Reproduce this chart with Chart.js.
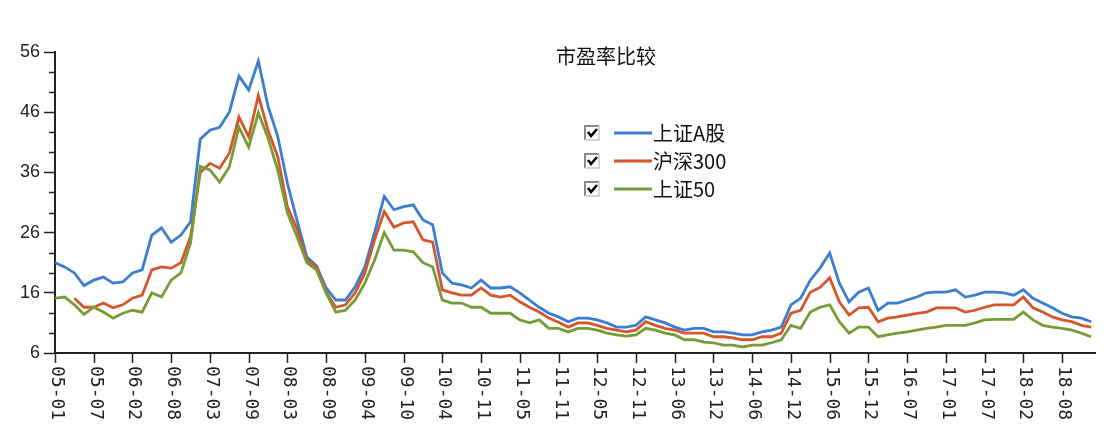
<!DOCTYPE html>
<html>
<head>
<meta charset="utf-8">
<script src="https://cdn.jsdelivr.net/npm/chart.js@4/dist/chart.umd.min.js"></script>
<style>
  html, body { margin: 0; padding: 0; background: #fff; }
  #wrap { width: 1107px; height: 427px; }
</style>
</head>
<body>
<div id="wrap"><canvas id="pe"></canvas></div>
<script>
const title = "市盈率比较";
const seriesNames = ["上证A股", "沪深300", "上证50"];
const seriesColors = ["#3a7dd2", "#d6552b", "#769c35"];

// x tick labels (yy-mm), one every 4 data points
const tickLabels = ["05-01", "05-07", "06-02", "06-08", "07-03", "07-09", "08-03", "08-09",
  "09-04", "09-10", "10-04", "10-11", "11-05", "11-11", "12-05", "12-11", "13-06", "13-12",
  "14-06", "14-12", "15-06", "15-12", "16-07", "17-01", "17-07", "18-02", "18-08"];
const pointsPerTick = 4;
const yTicks = [6, 16, 26, 36, 46, 56];

const shA = [21.0, 20.3, 19.3, 17.2, 18.1, 18.6, 17.6, 17.8, 19.3, 19.8,
  25.6, 26.8, 24.4, 25.6, 27.8, 41.5, 43.0, 43.5, 46.0, 52.0,
  49.7, 54.5, 47.0, 42.0, 34.2, 28.0, 22.0, 20.5, 16.8, 14.8,
  14.8, 17.0, 20.3, 26.0, 32.0, 29.8, 30.3, 30.6, 28.1, 27.3,
  19.3, 17.6, 17.3, 16.8, 18.1, 16.8, 16.8, 17.0, 16.0, 14.8,
  13.6, 12.6, 12.0, 11.2, 11.8, 11.8, 11.5, 11.0, 10.3, 10.3,
  10.6, 12.0, 11.5, 11.0, 10.3, 9.8, 10.1, 10.1, 9.5, 9.5,
  9.3, 9.0, 9.0, 9.5, 9.8, 10.3, 14.0, 15.1, 18.1, 20.1,
  22.6, 17.6, 14.5, 16.1, 16.8, 13.1, 14.3, 14.3, 14.8, 15.3,
  16.0, 16.1, 16.1, 16.5, 15.3, 15.6, 16.1, 16.1, 16.0, 15.6,
  16.5, 15.1, 14.3, 13.5, 12.6, 12.0, 11.8, 11.2];

const hs300 = [null, null, 15.1, 13.6, 13.6, 14.3, 13.5, 14.0, 15.1, 15.6,
  19.8, 20.3, 20.1, 21.0, 25.3, 36.0, 37.5, 36.7, 39.2, 45.2,
  41.9, 48.8, 43.0, 38.6, 30.3, 26.6, 21.4, 20.3, 16.1, 13.6,
  14.0, 16.0, 19.3, 24.8, 29.5, 26.9, 27.6, 27.8, 24.8, 24.4,
  16.5, 16.0, 15.6, 15.6, 16.8, 15.6, 15.3, 15.6, 14.5, 13.6,
  12.8, 11.8, 11.1, 10.3, 11.0, 11.0, 10.6, 10.1, 9.8, 9.5,
  9.8, 11.2, 10.6, 10.1, 9.8, 9.3, 9.3, 9.3, 8.7, 8.7,
  8.5, 8.2, 8.2, 8.7, 8.7, 9.3, 12.6, 13.1, 16.1, 16.9,
  18.5, 14.5, 12.3, 13.5, 13.6, 11.2, 11.8, 12.0, 12.3, 12.6,
  12.8, 13.5, 13.5, 13.5, 12.8, 13.1, 13.6, 14.0, 14.0, 14.0,
  15.3, 13.5, 12.8, 12.0, 11.5, 11.2, 10.6, 10.3];

const sz50 = [15.1, 15.3, 14.0, 12.4, 13.6, 12.8, 11.8, 12.6, 13.1, 12.8,
  16.0, 15.3, 18.1, 19.3, 24.3, 37.0, 36.4, 34.4, 36.9, 43.5,
  40.2, 45.9, 41.7, 36.4, 29.3, 25.3, 21.0, 19.8, 16.0, 12.8,
  13.1, 14.8, 17.6, 21.4, 26.0, 23.1, 23.1, 22.8, 21.0, 20.3,
  14.8, 14.3, 14.3, 13.6, 13.6, 12.6, 12.6, 12.6, 11.5, 11.0,
  11.5, 10.1, 10.1, 9.5, 10.1, 10.1, 9.8, 9.3, 9.0, 8.8,
  9.0, 10.1, 9.8, 9.3, 9.0, 8.2, 8.2, 7.8, 7.7, 7.3,
  7.3, 7.0, 7.3, 7.3, 7.7, 8.2, 10.6, 10.1, 12.8, 13.6,
  14.0, 11.2, 9.3, 10.3, 10.3, 8.7, 9.0, 9.3, 9.5, 9.8,
  10.1, 10.3, 10.6, 10.6, 10.6, 11.0, 11.5, 11.6, 11.6, 11.6,
  12.8, 11.5, 10.6, 10.3, 10.1, 9.8, 9.3, 8.7];

const allSeries = [shA, hs300, sz50];
const axisColor = "#222";

function toPoints(arr) {
  return arr.map((v, i) => ({ x: i, y: v }));
}

// title, checkbox legend, minor y ticks and rotated x labels
const decor = {
  id: "decor",
  afterDraw(chart) {
    const { ctx, chartArea, scales } = chart;
    const xs = scales.x, ys = scales.y;
    ctx.save();
    ctx.strokeStyle = axisColor;
    ctx.lineWidth = 1.5;

    for (let k = 0; k < yTicks.length - 1; k++) {
      for (let m = 1; m < 3; m++) {
        const py = Math.round(ys.getPixelForValue(yTicks[k] + (yTicks[k + 1] - yTicks[k]) * m / 3)) + 0.5;
        ctx.beginPath();
        ctx.moveTo(chartArea.left - 6, py);
        ctx.lineTo(chartArea.left, py);
        ctx.stroke();
      }
    }

    ctx.fillStyle = axisColor;
    ctx.font = "18px 'DejaVu Sans Mono'";
    ctx.textAlign = "left";
    ctx.textBaseline = "middle";
    tickLabels.forEach((lab, k) => {
      const px = Math.round(xs.getPixelForValue(k * pointsPerTick)) + 0.5;
      ctx.beginPath();
      ctx.moveTo(px, chartArea.bottom);
      ctx.lineTo(px, chartArea.bottom + 10);
      ctx.stroke();
      ctx.save();
      ctx.translate(px + 1, chartArea.bottom + 13);
      ctx.rotate(Math.PI / 2);
      ctx.fillText(lab, 0, 0);
      ctx.restore();
    });

    ctx.fillStyle = "#111";
    ctx.font = "20px 'Noto Sans CJK SC'";
    ctx.textAlign = "center";
    ctx.fillText(title, 606, 56);

    chart.data.datasets.forEach((ds, i) => {
      const cy = 133 + i * 28;
      // checkbox
      ctx.fillStyle = "#fff";
      ctx.fillRect(585, cy - 7, 14, 14);
      ctx.lineWidth = 2;
      ctx.strokeStyle = "#8a8a8a";
      ctx.beginPath();
      ctx.moveTo(585, cy + 7);
      ctx.lineTo(585, cy - 7);
      ctx.lineTo(599, cy - 7);
      ctx.stroke();
      ctx.strokeStyle = "#d8d4c8";
      ctx.beginPath();
      ctx.moveTo(599, cy - 7);
      ctx.lineTo(599, cy + 7);
      ctx.lineTo(585, cy + 7);
      ctx.stroke();
      ctx.strokeStyle = "#000";
      ctx.lineWidth = 2.5;
      ctx.beginPath();
      ctx.moveTo(588, cy - 1);
      ctx.lineTo(591, cy + 3);
      ctx.lineTo(597, cy - 4);
      ctx.stroke();
      // line sample
      ctx.strokeStyle = ds.borderColor;
      ctx.lineWidth = 3;
      ctx.beginPath();
      ctx.moveTo(614, cy);
      ctx.lineTo(652, cy);
      ctx.stroke();
      ctx.fillStyle = "#111";
      ctx.textAlign = "left";
      ctx.fillText(ds.label, 653, cy);
    });
    ctx.restore();
  }
};

new Chart(document.getElementById("pe"), {
  type: "line",
  data: {
    datasets: allSeries.map((arr, i) => ({
      label: seriesNames[i],
      data: toPoints(arr),
      borderColor: seriesColors[i],
      backgroundColor: seriesColors[i],
      borderWidth: 2.8,
      pointRadius: 0,
      tension: 0,
      order: allSeries.length - i
    }))
  },
  options: {
    responsive: true,
    maintainAspectRatio: false,
    animation: false,
    layout: { padding: { top: 52, right: 12, left: 0, bottom: 0 } },
    plugins: { legend: { display: false }, tooltip: { enabled: false }, title: { display: false } },
    scales: {
      x: {
        type: "linear",
        min: 0,
        max: 107.4,
        grid: { display: false },
        border: { display: true, color: axisColor, width: 2 },
        ticks: { display: false },
        afterFit: (scale) => { scale.height = 74; }
      },
      y: {
        min: 6,
        max: 56,
        afterBuildTicks: (scale) => { scale.ticks = yTicks.map((v) => ({ value: v })); },
        grid: { display: true, drawOnChartArea: false, tickLength: 11, tickWidth: 1.5, tickColor: axisColor },
        border: { display: true, color: axisColor, width: 2 },
        ticks: { color: axisColor, padding: 4, font: { family: "'Liberation Sans'", size: 18 } },
        afterFit: (scale) => { scale.width = 55; }
      }
    }
  },
  plugins: [decor]
});
</script>
</body>
</html>
